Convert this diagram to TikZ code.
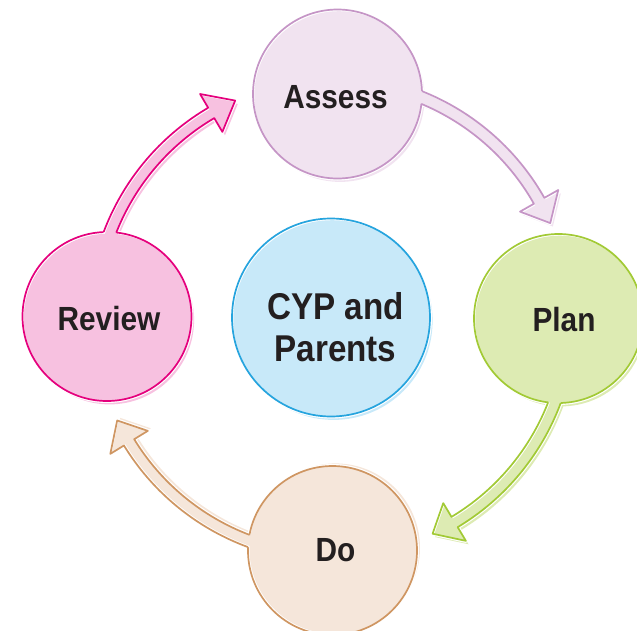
\documentclass[tikz,border=0pt]{standalone}
\usepackage{fontspec}
\newfontfamily\lblfont[FakeStretch=0.89]{Liberation Sans}
\definecolor{txtc}{HTML}{231F20}
\definecolor{lavD}{HTML}{C595C6}\definecolor{lavL}{HTML}{F1E3F0}
\definecolor{grnD}{HTML}{A2CA35}\definecolor{grnL}{HTML}{DDEBB3}
\definecolor{tanD}{HTML}{CF9662}\definecolor{tanL}{HTML}{F5E6DA}
\definecolor{magD}{HTML}{E5007D}\definecolor{magL}{HTML}{F7C1E0}
\definecolor{bluD}{HTML}{26A4DE}\definecolor{bluL}{HTML}{C8E9F9}

\newcommand\arrshape[3]{(#1:244pt) arc[start angle=#1, end angle=#2, radius=244pt] -- (#2:260pt) -- (#3:238pt) -- (#2:216pt) -- (#2:232pt) arc[start angle=#2, end angle=#1, radius=232pt] -- cycle}
\newcommand\arrline[3]{(#1:244pt) arc[start angle=#1, end angle=#2, radius=244pt] -- (#2:260pt) -- (#3:238pt) -- (#2:216pt) -- (#2:232pt) arc[start angle=#2, end angle=#1, radius=232pt]}
\newcommand\bigbox{(-400pt,-400pt) -- (400pt,-400pt) -- (400pt,400pt) -- (-400pt,400pt) -- cycle}

% #1 centre coordinate, #2 radius, #3 #4 #5 arrow angles (start, head base, tip), #6 dark, #7 light, #8 #9 offset
\newcommand\stage[9]{%
 \fill[#7] ([shift={(2*#8,2*#9)}]#1) circle[radius=#2pt];
 \fill[#7, shift={(2*#8,2*#9)}] \arrshape{#3}{#4}{#5};
 \fill[white] (#1) circle[radius=#2pt+2pt];
 \filldraw[white, line width=4pt, line join=round] \arrshape{#3}{#4}{#5};
 \begin{scope}\clip \arrshape{#3}{#4}{#5}; \fill[#7, shift={(#8,#9)}] \arrshape{#3}{#4}{#5}; \end{scope}
 \begin{scope}\clip (#1) circle[radius=#2pt]; \fill[#7] ([shift={(#8,#9)}]#1) circle[radius=#2pt]; \end{scope}
 \begin{scope}\clip \bigbox \arrshape{#3}{#4}{#5}; \draw[#6, line width=1.7pt] (#1) circle[radius=#2pt]; \end{scope}
 \begin{scope}\clip \bigbox (#1) ++(#2pt,0pt) arc[start angle=0, end angle=-360, radius=#2pt];
   \draw[#6, line width=1.7pt, line join=round] \arrline{#3}{#4}{#5}; \end{scope}
}

\tikzset{
 lbl/.style={text=txtc, inner sep=0pt, font=\lblfont\bfseries\fontsize{33.5}{40}\selectfont},
 biglbl/.style={text=txtc, inner sep=0pt, align=center, font=\lblfont\bfseries\fontsize{37.3}{42}\selectfont}
}

\begin{document}
\begin{tikzpicture}[x=1pt,y=1pt]
\useasboundingbox (-332,-312) rectangle (305,318);

\coordinate (cA) at (5.5,224);
\coordinate (cP) at (226.5,-0.5);
\coordinate (cD) at (0.5,-232.5);
\coordinate (cR) at (-225,1.5);
\coordinate (cC) at (-1,0.5);

% centre circle
\fill[bluL] ([shift={(2.6,-3.4)}]cC) circle[radius=99pt];
\fill[white] (cC) circle[radius=101pt];
\begin{scope}\clip (cC) circle[radius=99pt]; \fill[bluL] ([shift={(1.3,-1.7)}]cC) circle[radius=99pt]; \end{scope}
\draw[bluD, line width=1.7pt] (cC) circle[radius=99pt];

\stage{cA}{84.5}{78}{29.5}{23.5}{lavD}{lavL}{1.3}{-1.7}
\stage{cP}{84.5}{-10}{-59}{-65}{grnD}{grnL}{1.3}{-1.7}
\stage{cD}{84.5}{-100}{-148.5}{-154.5}{tanD}{tanL}{1.5}{1.3}
\stage{cR}{84.5}{170}{120.5}{114}{magD}{magL}{1.3}{-1.7}

\node[lbl] (assess) at (3.5,220.5) {Assess};
\node[lbl] (plan) at (232,-2) {Plan};
\node[lbl] (do) at (3.5,-232) {Do};
\node[lbl] (review) at (-223,-1) {Review};
\node[biglbl] (cyp) at (3.5,-9.5) {CYP and\\Parents};
\end{tikzpicture}
\end{document}
